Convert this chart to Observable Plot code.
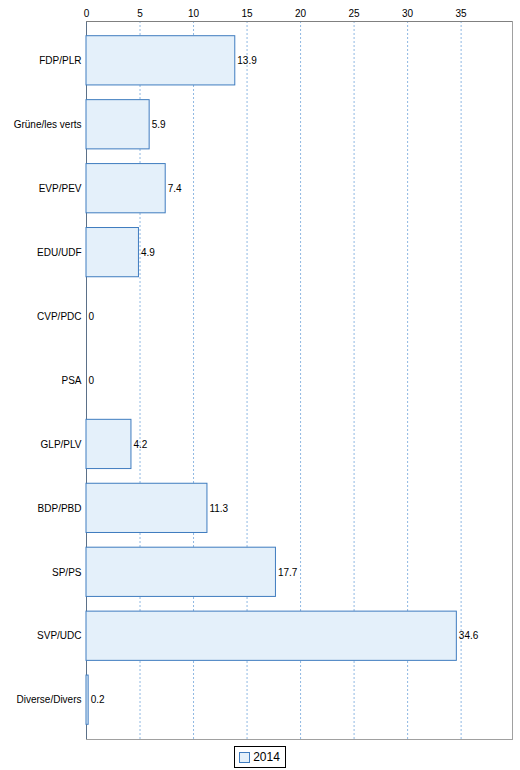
<!DOCTYPE html>
<html>
<head>
<meta charset="utf-8">
<script src="https://cdn.jsdelivr.net/npm/d3@7"></script>
<script src="https://cdn.jsdelivr.net/npm/@observablehq/plot@0.6"></script>
<style>
  body { margin: 0; background: #fff; font-family: "Liberation Sans", Arial, sans-serif; }
  #legend { display: flex; justify-content: center; margin-top: 4px; }
  #legend .box { border: 1px solid #000; padding: 3px 5px 3px 4px; font-size: 12px; display: flex; align-items: center; gap: 3px; }
  #legend .sw { width: 9px; height: 9px; background: #e4f0fa; border: 1px solid #3f7cbf; }
</style>
</head>
<body>
<div id="chart"></div>
<div id="legend"><div class="box"><span class="sw"></span><span>2014</span></div></div>
<script>
"use strict";

const parties = ["FDP/PLR", "Grüne/les verts", "EVP/PEV", "EDU/UDF", "CVP/PDC", "PSA", "GLP/PLV", "BDP/PBD", "SP/PS", "SVP/UDC", "Diverse/Divers"]
const values2014 = [13.9, 5.9, 7.4, 4.9, 0, 0, 4.2, 11.3, 17.7, 34.6, 0.2]
const xTicks = [0, 5, 10, 15, 20, 25, 30, 35]

const rows = parties.map((p, i) => ({party: p, value: values2014[i]}))

const chart = Plot.plot({
   "width": 520,
   "height": 742,
   "marginLeft": 86,
   "marginRight": 8,
   "marginTop": 21,
   "marginBottom": 3,
   "style": {"fontFamily": "Liberation Sans, Arial, sans-serif", "fontSize": "10px", "color": "#000"},
   "x": {"domain": [0, 39.8], "axis": null, "label": null},
   "y": {"domain": parties, "padding": 0.23, "round": false, "axis": null, "label": null},
   "marks": [
      Plot.gridX(xTicks.slice(1), {"stroke": "#8fb8e3", "strokeOpacity": 1, "strokeDasharray": "2,2"}),
      Plot.frame({"stroke": "#a0a0a0"}),
      Plot.ruleX([0], {"stroke": "#5b7088"}),
      Plot.axisX(xTicks, {"anchor": "top", "tickSize": 0, "tickPadding": 5, "fill": "#000", "fontSize": 10, "label": null}),
      Plot.axisY({"anchor": "left", "tickSize": 0, "tickPadding": 5, "fill": "#000", "fontSize": 10, "label": null}),
      Plot.barX(rows, {"y": "party", "x1": 0, "x2": "value", "fill": "#e4f0fa", "stroke": "#3f7cbf", "strokeWidth": 1}),
      Plot.text(rows, {"y": "party", "x": "value", "text": d => String(d.value), "textAnchor": "start", "dx": 2, "fill": "#000", "fontSize": 10})
   ]
})

// top axis line
d3.select(chart).append("line")
   .attr("x1", 86).attr("x2", 512).attr("y1", 21.5).attr("y2", 21.5)
   .attr("stroke", "#808080")

document.querySelector("#chart").append(chart)
</script>
</body>
</html>
